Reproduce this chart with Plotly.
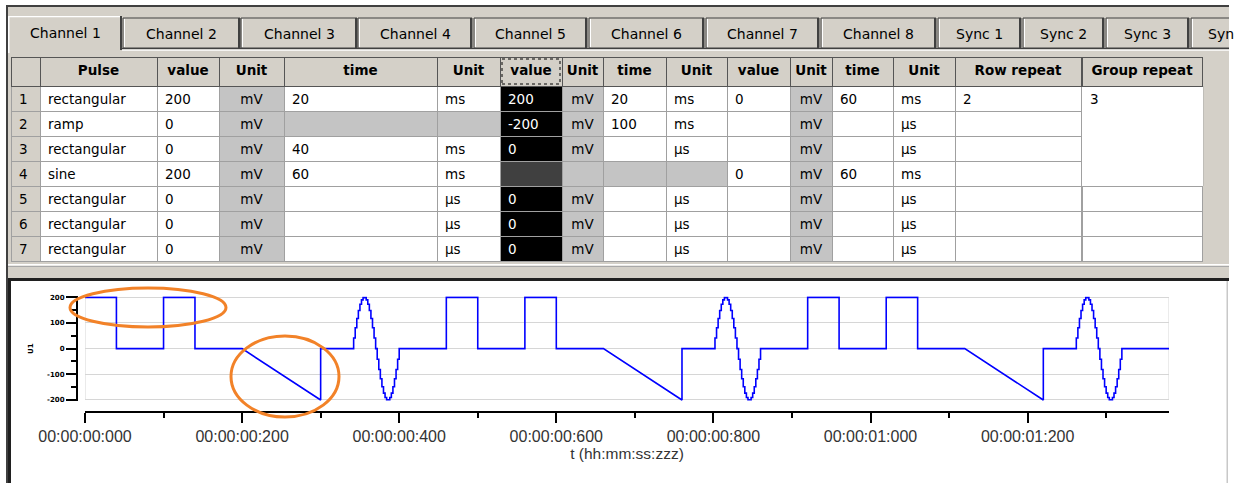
import numpy as np
import plotly.graph_objects as go

W, H = 1240, 483

# ---------------- data ----------------
tab_labels = ["Channel 1", "Channel 2", "Channel 3", "Channel 4", "Channel 5",
              "Channel 6", "Channel 7", "Channel 8", "Sync 1", "Sync 2", "Sync 3", "Syn"]

header_labels = ["", "Pulse", "value", "Unit", "time", "Unit", "value", "Unit",
                 "time", "Unit", "value", "Unit", "time", "Unit", "Row repeat", "Group repeat"]

row_numbers = ["1", "2", "3", "4", "5", "6", "7"]
pulse = ["rectangular", "ramp", "rectangular", "sine", "rectangular", "rectangular", "rectangular"]
value_1 = ["200", "0", "0", "200", "0", "0", "0"]
unit_1 = ["mV", "mV", "mV", "mV", "mV", "mV", "mV"]
time_1 = ["20", "", "40", "60", "", "", ""]
time_unit_1 = ["ms", "", "ms", "ms", "µs", "µs", "µs"]
value_2 = ["200", "-200", "0", "", "0", "0", "0"]
unit_2 = ["mV", "mV", "mV", "", "mV", "mV", "mV"]
time_2 = ["20", "100", "", "", "", "", ""]
time_unit_2 = ["ms", "ms", "µs", "", "µs", "µs", "µs"]
value_3 = ["0", "", "", "0", "", "", ""]
unit_3 = ["mV", "mV", "mV", "mV", "mV", "mV", "mV"]
time_3 = ["60", "", "", "60", "", "", ""]
time_unit_3 = ["ms", "µs", "µs", "ms", "µs", "µs", "µs"]
row_repeat = ["2", "", "", "", "", "", ""]
group_repeat = ["3", "", "", "", "", "", ""]

x_tick_values = [0, 200, 400, 600, 800, 1000, 1200]
x_tick_labels = ["00:00:00:000", "00:00:00:200", "00:00:00:400", "00:00:00:600",
                 "00:00:00:800", "00:00:01:000", "00:00:01:200"]
y_tick_values = [-200, -100, 0, 100, 200]
y_tick_labels = ["-200", "-100", "0", "100", "200"]

sine_sample_ms = 2  # display sampling of the sine pulse


# ---------------- waveform from the protocol table ----------------
def to_ms(t, u):
    if t == "":
        return 0.0
    return float(t) / 1000.0 if u == "µs" else float(t)


def lv(v):
    return float(v) if v != "" else 0.0


wave_t, wave_v = [], []
state = {"t": 0.0}


def hold(v, d):
    if d <= 0:
        return
    t = state["t"]
    wave_t.extend([t, t + d])
    wave_v.extend([v, v])
    state["t"] = t + d


def ramp(v0, v1, d):
    if d <= 0:
        return
    t = state["t"]
    wave_t.extend([t, t + d])
    wave_v.extend([v0, v1])
    state["t"] = t + d


def sine(a, period):
    if period <= 0:
        return
    n = int(round(period / sine_sample_ms))
    for k in range(n):
        hold(a * np.sin(2 * np.pi * k / n), period / n)


groups = int(group_repeat[0]) if group_repeat[0] else 1
for g in range(groups):
    for i in range(len(pulse)):
        reps = int(row_repeat[i]) if row_repeat[i] else 1
        for r in range(reps):
            d1 = to_ms(time_1[i], time_unit_1[i])
            d2 = to_ms(time_2[i], time_unit_2[i])
            d3 = to_ms(time_3[i], time_unit_3[i])
            if pulse[i] == "rectangular":
                hold(lv(value_1[i]), d1)
                hold(lv(value_2[i]), d2)
                hold(lv(value_3[i]), d3)
            elif pulse[i] == "ramp":
                hold(lv(value_1[i]), d1)
                ramp(lv(value_1[i]), lv(value_2[i]), d2)
                hold(lv(value_3[i]), d3)
            elif pulse[i] == "sine":
                sine(lv(value_1[i]), d1)
                hold(lv(value_3[i]), d3)

total_ms = state["t"]

# ---------------- helpers (pixel -> paper) ----------------
def xp(px):
    return px / W


def yp(py):
    return 1 - py / H


GREY = "#D4D0C8"
DARK = "#404040"
CELLG = "#C4C4C4"

fig = go.Figure()

# ---------------- table ----------------
cols_a = [row_numbers, pulse, value_1, unit_1, time_1, time_unit_1, value_2, unit_2,
          time_2, time_unit_2, value_3, unit_3, time_3, time_unit_3, row_repeat]
widths_a = [29, 117, 62, 65, 153, 63, 62, 41, 63, 61, 63, 42, 61, 62, 126]
n_rows = len(row_numbers)

fills = []
fcols = []
for ci in range(len(cols_a)):
    col_fill = []
    col_font = []
    for ri in range(n_rows):
        c = "white"
        fc = "black"
        if ci == 0:
            c = GREY
        elif ci in (3, 7, 11):
            c = CELLG
        elif ci in (4, 5) and ri == 1:
            c = CELLG
        elif ci == 6:
            c = "#404040" if ri == 3 else "black"
            fc = "white"
        elif ci in (8, 9) and ri == 3:
            c = CELLG
        col_fill.append(c)
        col_font.append(fc)
    fills.append(col_fill)
    fcols.append(col_font)

aligns = ["left", "left", "left", "center", "left", "left", "left", "center",
          "left", "left", "left", "center", "left", "left", "left"]

head_font = dict(family="DejaVu Sans", size=13.5, color="black", weight="bold")

fig.add_trace(go.Table(
    domain=dict(x=[xp(11), xp(11 + sum(widths_a))], y=[yp(268), yp(57)]),
    columnwidth=widths_a,
    header=dict(values=header_labels[:15], fill_color=GREY, align="center",
                font=head_font, height=29, line=dict(color="#555555", width=1)),
    cells=dict(values=cols_a, fill_color=fills, align=aligns,
               font=dict(family="DejaVu Sans", size=13.5, color=fcols),
               height=25, line=dict(color="#A0A0A0", width=1)),
))

gx0 = 11 + sum(widths_a) + 1
fig.add_trace(go.Table(
    domain=dict(x=[xp(gx0), xp(1202)], y=[yp(268), yp(57)]),
    columnwidth=[1],
    header=dict(values=[header_labels[15].replace(" ", "\u00a0")], fill_color=GREY,
                align="center", font=head_font, height=29,
                line=dict(color="#555555", width=1)),
    cells=dict(values=[group_repeat], fill_color="white", align="left",
               font=dict(family="DejaVu Sans", size=13.5, color="black"),
               height=25,
               line=dict(color=[["white", "white", "white", "white",
                                 "#A0A0A0", "#A0A0A0", "#A0A0A0"]], width=1)),
))

# ---------------- waveform ----------------
fig.add_trace(go.Scatter(x=wave_t, y=wave_v, mode="lines",
                         line=dict(color="#0000FF", width=1.6),
                         hoverinfo="skip", showlegend=False))

fig.update_layout(
    width=W, height=H,
    margin=dict(l=0, r=0, t=0, b=0, pad=0, autoexpand=False),
    paper_bgcolor="white",
    plot_bgcolor="rgba(0,0,0,0)",
    showlegend=False,
    xaxis=dict(
        domain=[xp(85), xp(1169)], range=[0, total_ms],
        anchor="free", position=yp(412), automargin=False,
        showline=True, linecolor="black", linewidth=2,
        ticks="outside", ticklen=10, tickwidth=2, tickcolor="black",
        tickmode="array", tickvals=x_tick_values, ticktext=x_tick_labels,
        tickfont=dict(family="Liberation Sans", size=16, color="#333333"),
        showgrid=False, zeroline=False,
        minor=dict(tickmode="linear", tick0=0, dtick=100, ticks="outside",
                   ticklen=5, tickwidth=2, tickcolor="black", showgrid=False),
        title=dict(text="t (hh:mm:ss:zzz)", standoff=2,
                   font=dict(family="Liberation Sans", size=15.5, color="#333333")),
        fixedrange=True,
    ),
    yaxis=dict(
        domain=[yp(401), yp(296.3)], range=[-204, 204],
        anchor="free", position=xp(77), automargin=False,
        showline=True, linecolor="black", linewidth=2,
        ticks="outside", ticklen=10, tickwidth=2, tickcolor="black",
        tickmode="array", tickvals=y_tick_values, ticktext=y_tick_labels,
        tickfont=dict(family="DejaVu Sans", size=7, color="black", weight="bold"),
        showgrid=True, gridcolor="#D6D6D6", gridwidth=1, zeroline=False,
        minor=dict(tickmode="linear", tick0=0, dtick=50, ticks="outside",
                   ticklen=5, tickwidth=2, tickcolor="black", showgrid=False),
        title=dict(text="U1", standoff=12,
                   font=dict(family="DejaVu Sans", size=7, color="black", weight="bold")),
        fixedrange=True,
    ),
)

shapes = []


def prect(x0, y0, x1, y1, fill, layer="below", line=None):
    d = dict(type="rect", xref="paper", yref="paper", x0=xp(x0), x1=xp(x1),
             y0=yp(y0), y1=yp(y1), fillcolor=fill, layer=layer,
             line=dict(width=0) if line is None else line)
    shapes.append(d)


# window chrome
prect(8, 7, 1229, 279, GREY)
prect(6, 5, 1229, 7, DARK)
prect(6, 5, 8, 483, DARK)
prect(8, 279, 1228, 483, "white")
prect(8, 278, 1229, 281, "#202020")
prect(8, 279, 11, 483, "#202020")
prect(1226.5, 281, 1228, 483, "#C8C8C8")
prect(8, 264, 1229, 265.5, "white")
prect(8, 266, 1229, 267, "#A8A8A8")

# tab pane border
prect(122, 48, 1229, 49.2, DARK)
prect(122, 49.5, 1229, 50.7, "white")

tab_x = [(8, 122), (123, 240), (241, 357), (358, 472), (474, 587), (589, 704),
         (706, 819), (821, 936), (938, 1021), (1023, 1104), (1106, 1189), (1191, 1260)]
for k, (a, b) in enumerate(tab_x):
    if k == 0:
        prect(a, 16, b, 53, GREY)
        prect(a, 16, b, 17.2, "white")
        prect(a, 16, a + 1.5, 53, "white")
        prect(b - 2, 16, b, 50, DARK)
    else:
        prect(a, 18, b, 48, GREY, line=dict(color=DARK, width=1))
        prect(a + 1, 19, a + 2, 47, "white")
        prect(b - 2, 18, b, 48, DARK)

# window is cut off on the right
prect(1229, 0, 1240, 483, "white")

# right border of group repeat merged cell
prect(1202.2, 86, 1203.4, 186, "#A0A0A0")

# focus rectangle on header cell
shapes.append(dict(type="rect", xref="paper", yref="paper", x0=xp(502), x1=xp(560),
                   y0=yp(84), y1=yp(59), layer="above",
                   line=dict(color="black", width=1, dash="dot")))

# plot frame (box around data area)
for xv in (0, total_ms):
    shapes.append(dict(type="line", xref="x", yref="y", x0=xv, x1=xv, y0=-200, y1=200,
                       line=dict(color="#D6D6D6", width=1), layer="below"))

# orange hand-drawn marks
shapes.append(dict(type="circle", xref="paper", yref="paper", x0=xp(70), x1=xp(226),
                   y0=yp(327), y1=yp(288), layer="above",
                   line=dict(color="#F28228", width=3)))
shapes.append(dict(type="circle", xref="paper", yref="paper", x0=xp(231), x1=xp(339),
                   y0=yp(417), y1=yp(336), layer="above",
                   line=dict(color="#F28228", width=3)))

annotations = []
for k, (a, b) in enumerate(tab_x):
    if k == len(tab_x) - 1:
        annotations.append(dict(x=xp(1206), y=yp(34), xref="paper", yref="paper",
                                text=tab_labels[k], showarrow=False, xanchor="left",
                                yanchor="middle",
                                font=dict(family="DejaVu Sans", size=14, color="black")))
    else:
        annotations.append(dict(x=xp((a + b) / 2), y=yp(34 if k else 33),
                                xref="paper", yref="paper",
                                text=tab_labels[k], showarrow=False, xanchor="center",
                                yanchor="middle",
                                font=dict(family="DejaVu Sans", size=14, color="black")))

fig.update_layout(shapes=shapes, annotations=annotations)

fig.write_html("out.html", config={"displayModeBar": False, "staticPlot": True},
               post_script="document.body.style.margin='0';document.body.style.overflow='hidden';")
